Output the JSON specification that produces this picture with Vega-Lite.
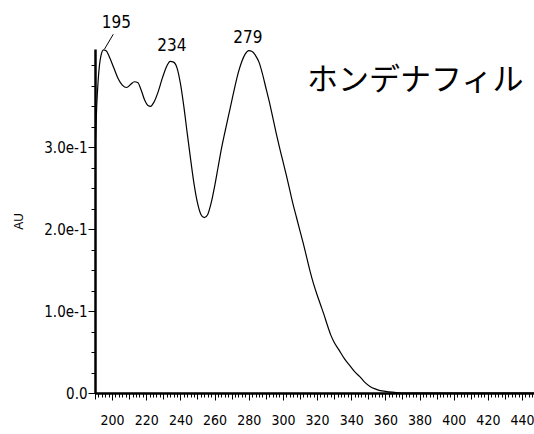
{
  "$schema": "https://vega.github.io/schema/vega-lite/v6.json",
  "width": 439,
  "height": 344,
  "autosize": {"type": "none"},
  "padding": {"left": 95, "top": 49, "right": 0, "bottom": 41},
  "background": "white",
  "config": {"view": {"stroke": null}, "axis": {"grid": false}},
  "resolve": {"axis": {"x": "independent", "y": "independent"}},
  "datasets": {
    "spectrum": [
      {"nm": 190.3, "au": 0.31}, {"nm": 191.0, "au": 0.35}, {"nm": 191.8, "au": 0.38}, {"nm": 192.6, "au": 0.4},
      {"nm": 193.5, "au": 0.412}, {"nm": 195, "au": 0.419}, {"nm": 196.5, "au": 0.418}, {"nm": 198.5, "au": 0.41},
      {"nm": 201, "au": 0.397}, {"nm": 203.5, "au": 0.384}, {"nm": 206, "au": 0.376}, {"nm": 208.5, "au": 0.373},
      {"nm": 211, "au": 0.377}, {"nm": 213, "au": 0.38}, {"nm": 215, "au": 0.379}, {"nm": 217, "au": 0.37},
      {"nm": 219, "au": 0.358}, {"nm": 221, "au": 0.351}, {"nm": 222.5, "au": 0.35}, {"nm": 224.5, "au": 0.355},
      {"nm": 227, "au": 0.368}, {"nm": 229.5, "au": 0.385}, {"nm": 232, "au": 0.399}, {"nm": 234, "au": 0.405},
      {"nm": 236, "au": 0.404}, {"nm": 238, "au": 0.397}, {"nm": 240, "au": 0.378}, {"nm": 242, "au": 0.35},
      {"nm": 244, "au": 0.317}, {"nm": 246, "au": 0.285}, {"nm": 248, "au": 0.255}, {"nm": 250, "au": 0.232},
      {"nm": 252, "au": 0.218}, {"nm": 254, "au": 0.214}, {"nm": 256, "au": 0.218}, {"nm": 258, "au": 0.232},
      {"nm": 260, "au": 0.252}, {"nm": 262, "au": 0.275}, {"nm": 264, "au": 0.298}, {"nm": 266, "au": 0.318},
      {"nm": 268, "au": 0.337}, {"nm": 270, "au": 0.356}, {"nm": 272, "au": 0.375}, {"nm": 274, "au": 0.392},
      {"nm": 276, "au": 0.405}, {"nm": 278, "au": 0.414}, {"nm": 280, "au": 0.418}, {"nm": 282, "au": 0.417},
      {"nm": 284, "au": 0.412}, {"nm": 286, "au": 0.404}, {"nm": 288, "au": 0.39}, {"nm": 290, "au": 0.373},
      {"nm": 292, "au": 0.356}, {"nm": 294, "au": 0.337}, {"nm": 296, "au": 0.318}, {"nm": 298, "au": 0.3},
      {"nm": 300, "au": 0.283}, {"nm": 302, "au": 0.266}, {"nm": 304, "au": 0.248}, {"nm": 306, "au": 0.23},
      {"nm": 308, "au": 0.214}, {"nm": 310, "au": 0.198}, {"nm": 312, "au": 0.182}, {"nm": 314, "au": 0.165},
      {"nm": 316, "au": 0.148}, {"nm": 318, "au": 0.133}, {"nm": 320, "au": 0.12}, {"nm": 322, "au": 0.108},
      {"nm": 324, "au": 0.096}, {"nm": 326, "au": 0.083}, {"nm": 328, "au": 0.071}, {"nm": 330, "au": 0.062},
      {"nm": 333, "au": 0.052}, {"nm": 336, "au": 0.042}, {"nm": 339, "au": 0.034}, {"nm": 342, "au": 0.026},
      {"nm": 345, "au": 0.02}, {"nm": 348, "au": 0.013}, {"nm": 351, "au": 0.008}, {"nm": 354, "au": 0.005},
      {"nm": 357, "au": 0.003}, {"nm": 360, "au": 0.002}, {"nm": 364, "au": 0.001}, {"nm": 370, "au": 0.0},
      {"nm": 390, "au": 0.0}, {"nm": 420, "au": 0.0}, {"nm": 447, "au": 0.0}
    ],
    "peaks": [
      {"nm": 202.5, "au": 0.452, "label": "195"},
      {"nm": 235, "au": 0.424, "label": "234"},
      {"nm": 279.5, "au": 0.434, "label": "279"}
    ],
    "leader": [{"nm": 200.7, "au": 0.438, "nm2": 195.6, "au2": 0.42}],
    "name": [{"nm": 377.5, "au": 0.381, "text": "ホンデナフィル"}]
  },
  "layer": [
    {
      "data": {"name": "spectrum"},
      "mark": {"type": "line", "color": "black", "strokeWidth": 1.2, "interpolate": "monotone", "clip": true},
      "encoding": {
        "x": {
          "field": "nm", "type": "quantitative",
          "scale": {"domain": [190, 447], "nice": false, "zero": false},
          "axis": {
            "orient": "bottom",
            "title": null,
            "values": [200, 220, 240, 260, 280, 300, 320, 340, 360, 380, 400, 420, 440],
            "tickSize": 7,
            "tickColor": "black",
            "tickWidth": 1,
            "domainColor": "black",
            "domainWidth": 2.5,
            "labelColor": "black",
            "labelFont": "Liberation Sans Narrow, DejaVu Sans Condensed, sans-serif",
            "labelFontSize": 14,
            "labelPadding": 13,
            "labelFlush": false,
            "labelOverlap": false
          }
        },
        "y": {
          "field": "au", "type": "quantitative",
          "scale": {"domain": [0, 0.42], "nice": false, "zero": true},
          "axis": {
            "orient": "left",
            "title": "AU",
            "titleFont": "Liberation Sans, sans-serif",
            "titleFontWeight": "normal",
            "titleFontSize": 12,
            "titleColor": "black",
            "titlePadding": 18,
            "values": [0, 0.1, 0.2, 0.3],
            "labelExpr": "datum.value == 0 ? '0.0' : format(datum.value, '.1e')",
            "labelOverlap": false,
            "labelFlush": false,
            "tickSize": 7,
            "tickColor": "black",
            "domainColor": "black",
            "domainWidth": 2.5,
            "labelColor": "black",
            "labelFont": "Liberation Sans Narrow, DejaVu Sans Condensed, sans-serif",
            "labelFontSize": 15,
            "labelPadding": 1
          }
        }
      }
    },
    {
      "data": {"name": "leader"},
      "mark": {"type": "rule", "color": "black", "strokeWidth": 1},
      "encoding": {
        "x": {"field": "nm", "type": "quantitative",
          "axis": {
            "orient": "bottom",
            "title": null, "labels": false, "domain": false, "tickSize": 4, "tickColor": "black",
            "values": [190,192,194,196,198,202,204,206,208,212,214,216,218,222,224,226,228,232,234,236,238,242,244,246,248,252,254,256,258,262,264,266,268,272,274,276,278,282,284,286,288,292,294,296,298,302,304,306,308,312,314,316,318,322,324,326,328,332,334,336,338,342,344,346,348,352,354,356,358,362,364,366,368,372,374,376,378,382,384,386,388,392,394,396,398,402,404,406,408,412,414,416,418,422,424,426,428,432,434,436,438,442,444,446]
          }},
        "y": {"field": "au", "type": "quantitative",
          "axis": {
            "orient": "left",
            "title": null, "labels": false, "domain": false, "tickSize": 4, "tickColor": "black",
            "values": [0.025, 0.05, 0.075, 0.125, 0.15, 0.175, 0.225, 0.25, 0.275, 0.325, 0.35, 0.375, 0.4]
          }},
        "x2": {"field": "nm2"},
        "y2": {"field": "au2"}
      }
    },
    {
      "data": {"name": "peaks"},
      "mark": {"type": "text", "font": "Liberation Sans Narrow, DejaVu Sans Condensed, sans-serif", "fontSize": 17, "color": "black", "baseline": "middle", "align": "center"},
      "encoding": {
        "x": {"field": "nm", "type": "quantitative",
          "axis": {
            "orient": "bottom",
            "title": null, "labels": false, "domain": false, "tickSize": 6, "tickColor": "black",
            "values": [190, 210, 230, 250, 270, 290, 310, 330, 350, 370, 390, 410, 430]
          }},
        "y": {"field": "au", "type": "quantitative", "axis": null},
        "text": {"field": "label"}
      }
    },
    {
      "data": {"name": "name"},
      "mark": {"type": "text", "font": "Noto Sans CJK JP", "fontSize": 31, "color": "black", "baseline": "middle", "align": "center"},
      "encoding": {
        "x": {"field": "nm", "type": "quantitative", "axis": null},
        "y": {"field": "au", "type": "quantitative", "axis": null},
        "text": {"field": "text"}
      }
    }
  ]
}
